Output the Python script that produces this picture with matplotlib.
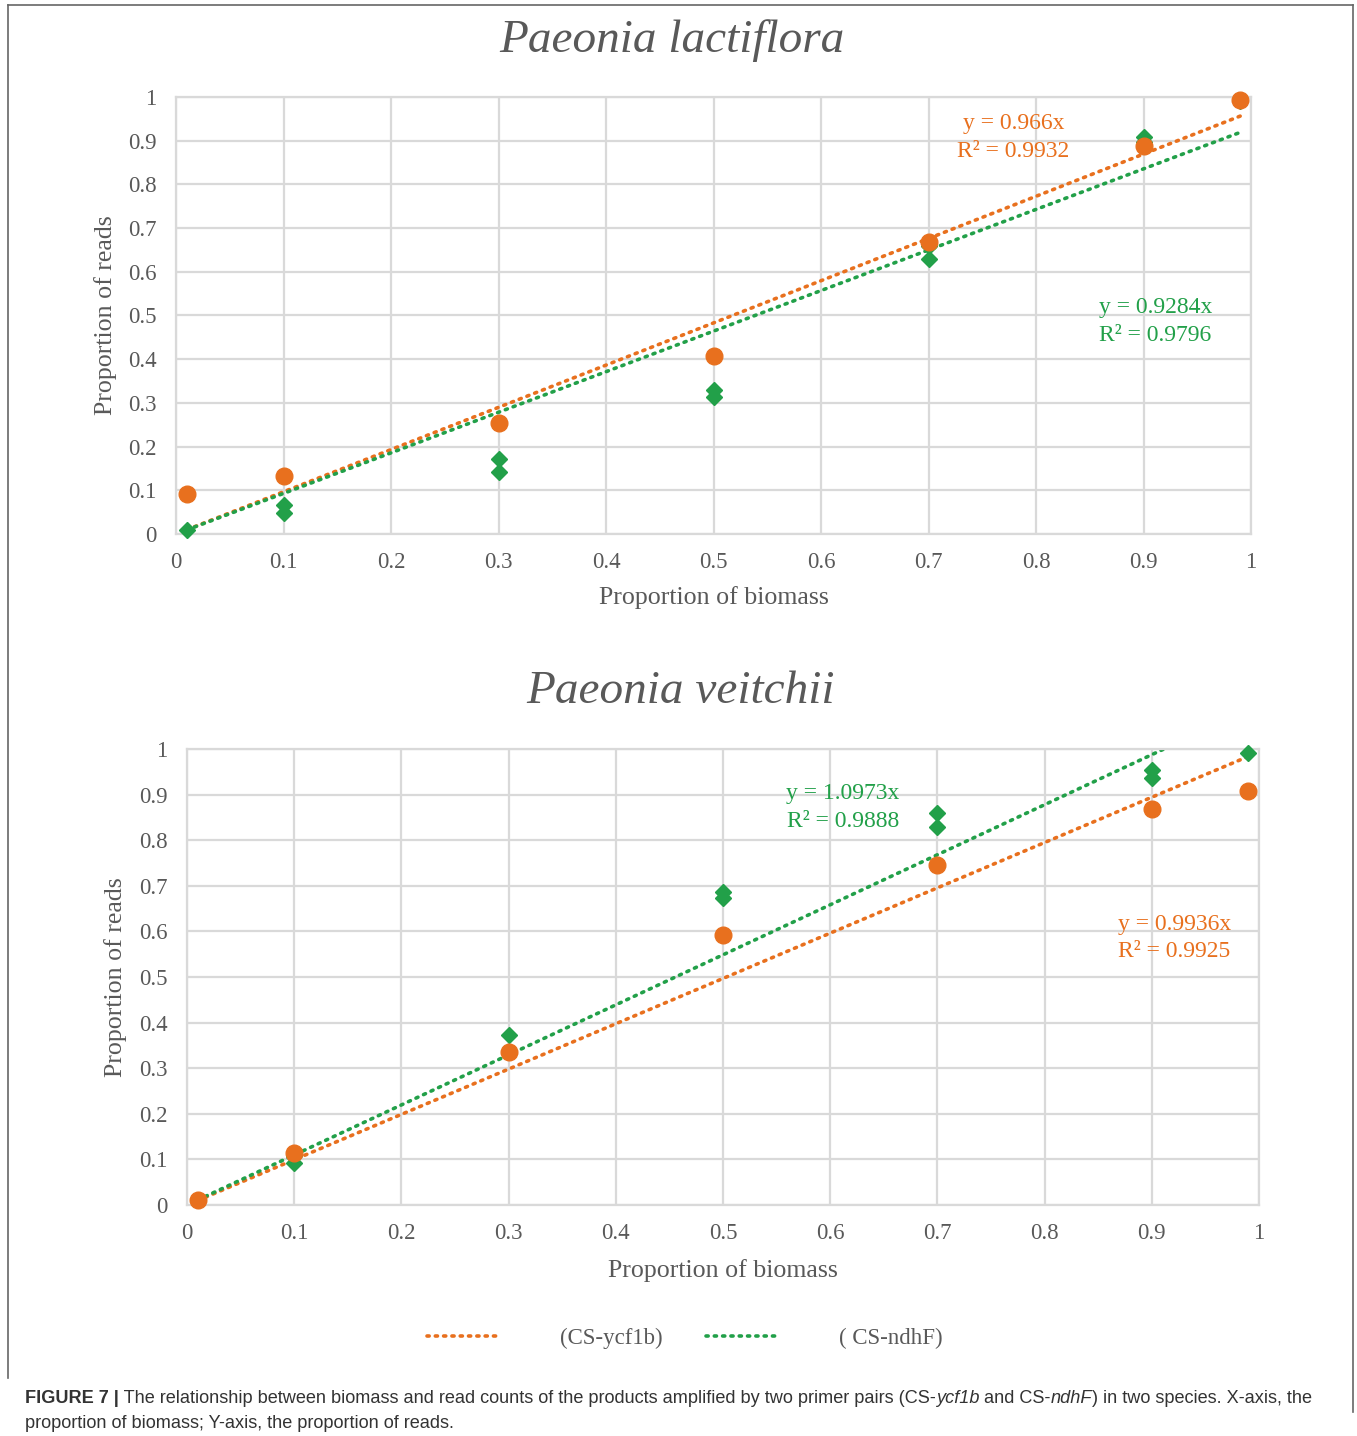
import numpy as np
import matplotlib
matplotlib.use('Agg')
import matplotlib.pyplot as plt
from matplotlib.lines import Line2D

# ---- datos ----
# Paeonia lactiflora
lac_x_ycf = [0.01, 0.1, 0.3, 0.5, 0.7, 0.9, 0.99]
lac_y_ycf = [0.091, 0.133, 0.254, 0.407, 0.669, 0.888, 0.992]
lac_x_ndh = [0.01, 0.1, 0.1, 0.3, 0.3, 0.5, 0.5, 0.7, 0.7, 0.9, 0.9, 0.99]
lac_y_ndh = [0.009, 0.066, 0.049, 0.172, 0.142, 0.330, 0.314, 0.629, 0.660, 0.908, 0.896, 0.990]
lac_slope = [0.966, 0.9284]
lac_r2 = [0.9932, 0.9796]

# Paeonia veitchii
vei_x_ycf = [0.01, 0.1, 0.3, 0.5, 0.7, 0.9, 0.99]
vei_y_ycf = [0.011, 0.113, 0.336, 0.592, 0.746, 0.868, 0.908]
vei_x_ndh = [0.01, 0.1, 0.1, 0.3, 0.5, 0.5, 0.7, 0.7, 0.9, 0.9, 0.99]
vei_y_ndh = [0.010, 0.108, 0.092, 0.373, 0.686, 0.673, 0.859, 0.829, 0.953, 0.937, 0.991]
vei_slope = [0.9936, 1.0973]
vei_r2 = [0.9925, 0.9888]

ticks = [0, 0.1, 0.2, 0.3, 0.4, 0.5, 0.6, 0.7, 0.8, 0.9, 1]
names = ['(CS-ycf1b)', '( CS-ndhF)']

ORANGE = '#E8701E'
GREEN = '#22A049'
GREY = '#595959'
SERIF = 'Liberation Serif'

W, H = 1357, 1436
fig = plt.figure(figsize=(W / 100, H / 100), dpi=100)


def rect(l, t, r, b):
    return [l / W, 1 - b / H, (r - l) / W, (b - t) / H]


def fx(x):
    return x / W


def fy(y):
    return 1 - y / H


def panel(box, xo, yo, xn, yn, slopes, r2s, eq_pos):
    ax = fig.add_axes(rect(*box))
    ax.set_xlim(0, 1)
    ax.set_ylim(0, 1)
    ax.set_xticks(ticks)
    ax.set_yticks(ticks)
    ax.set_xticklabels(['{:g}'.format(t) for t in ticks])
    ax.set_yticklabels(['{:g}'.format(t) for t in ticks])
    ax.grid(True, color='#d9d9d9', lw=1.6)
    ax.set_axisbelow(True)
    for s in ax.spines.values():
        s.set_color('#d9d9d9')
        s.set_linewidth(1.6)
    ax.tick_params(length=0, labelsize=16.5, labelcolor=GREY)
    ax.tick_params(axis='x', pad=13)
    ax.tick_params(axis='y', pad=14)
    for lab in ax.get_xticklabels() + ax.get_yticklabels():
        lab.set_fontfamily(SERIF)

    # lineas de tendencia (pendiente de la ecuacion de Excel)
    lines = []
    for xs, slope, c in [(xo, slopes[0], ORANGE), (xn, slopes[1], GREEN)]:
        xl = np.array([min(xs), max(xs)])
        ln, = ax.plot(xl, slope * xl, c=c, lw=2.6, ls=(0, (0.6, 1.7)),
                      dash_capstyle='round', zorder=2)
        lines.append(ln)

    ax.plot(xn, yn, ls='none', marker='D', ms=8.5, c=GREEN, zorder=3,
            clip_on=False)
    ax.plot(xo, yo, ls='none', marker='o', ms=12, c=ORANGE, zorder=4,
            clip_on=False)

    for (px, py), slope, r2, c in zip(eq_pos, slopes, r2s, [ORANGE, GREEN]):
        ax.text(px, py, 'y = {:g}x\nR² = {:g}'.format(slope, r2), color=c,
                fontsize=17, family=SERIF, ha='center', va='center',
                linespacing=1.4)
    return ax, lines


ax1, lines1 = panel((176, 97, 1251, 534), lac_x_ycf, lac_y_ycf,
                    lac_x_ndh, lac_y_ndh, lac_slope, lac_r2,
                    [(0.779, 0.907), (0.911, 0.486)])
ax2, lines2 = panel((187, 749, 1259, 1205), vei_x_ycf, vei_y_ycf,
                    vei_x_ndh, vei_y_ndh, vei_slope, vei_r2,
                    [(0.921, 0.586), (0.612, 0.872)])

# titulos y etiquetas
fig.text(fx(672), fy(41), 'Paeonia lactiflora', family=SERIF, style='italic',
         fontsize=34, color=GREY, ha='center', va='center')
fig.text(fx(680), fy(692), 'Paeonia veitchii', family=SERIF, style='italic',
         fontsize=34, color=GREY, ha='center', va='center')
for (x, y) in [(714, 598), (723, 1271)]:
    fig.text(fx(x), fy(y), 'Proportion of biomass', family=SERIF,
             fontsize=18.6, color=GREY, ha='center', va='center')
for (x, y) in [(106, 315), (116, 977)]:
    fig.text(fx(x), fy(y), 'Proportion of reads', family=SERIF, rotation=90,
             fontsize=18.6, color=GREY, ha='center', va='center')

# leyenda
leg = fig.legend(lines1, names, loc='center', bbox_to_anchor=(fx(685), fy(1338)),
                 ncol=2, frameon=False, handlelength=3.0, handletextpad=2.8,
                 columnspacing=1.9, prop={'family': SERIF, 'size': 16.5})
for t in leg.get_texts():
    t.set_color(GREY)

# marco
for xs, ys in [([8, 1353], [5, 5]), ([8, 8], [5, 1378]), ([1353, 1353], [5, 1412])]:
    fig.add_artist(Line2D([fx(v) for v in xs], [fy(v) for v in ys],
                          color='#666666', lw=1.2))

# pie de figura
fig.canvas.draw()
renderer = fig.canvas.get_renderer()


def write_line(parts, x0, y0):
    x = x0
    for txt, kw in parts:
        t = fig.text(fx(x), fy(y0), txt, family='Liberation Sans', fontsize=13.1,
                     color='#333333', ha='left', va='baseline', **kw)
        bb = t.get_window_extent(renderer)
        x += bb.width


line1 = [('FIGURE 7 |', {'weight': 'bold'}),
         (' The relationship between biomass and read counts of the products '
          'amplified by two primer pairs (CS-', {}),
         ('ycf1b', {'style': 'italic'}),
         (' and CS-', {}),
         ('ndhF', {'style': 'italic'}),
         (') in two species. X-axis, the', {})]
line2 = [('proportion of biomass; Y-axis, the proportion of reads.', {})]
write_line(line1, 25, 1403)
write_line(line2, 25, 1428)

fig.savefig('out.png', dpi=100)
